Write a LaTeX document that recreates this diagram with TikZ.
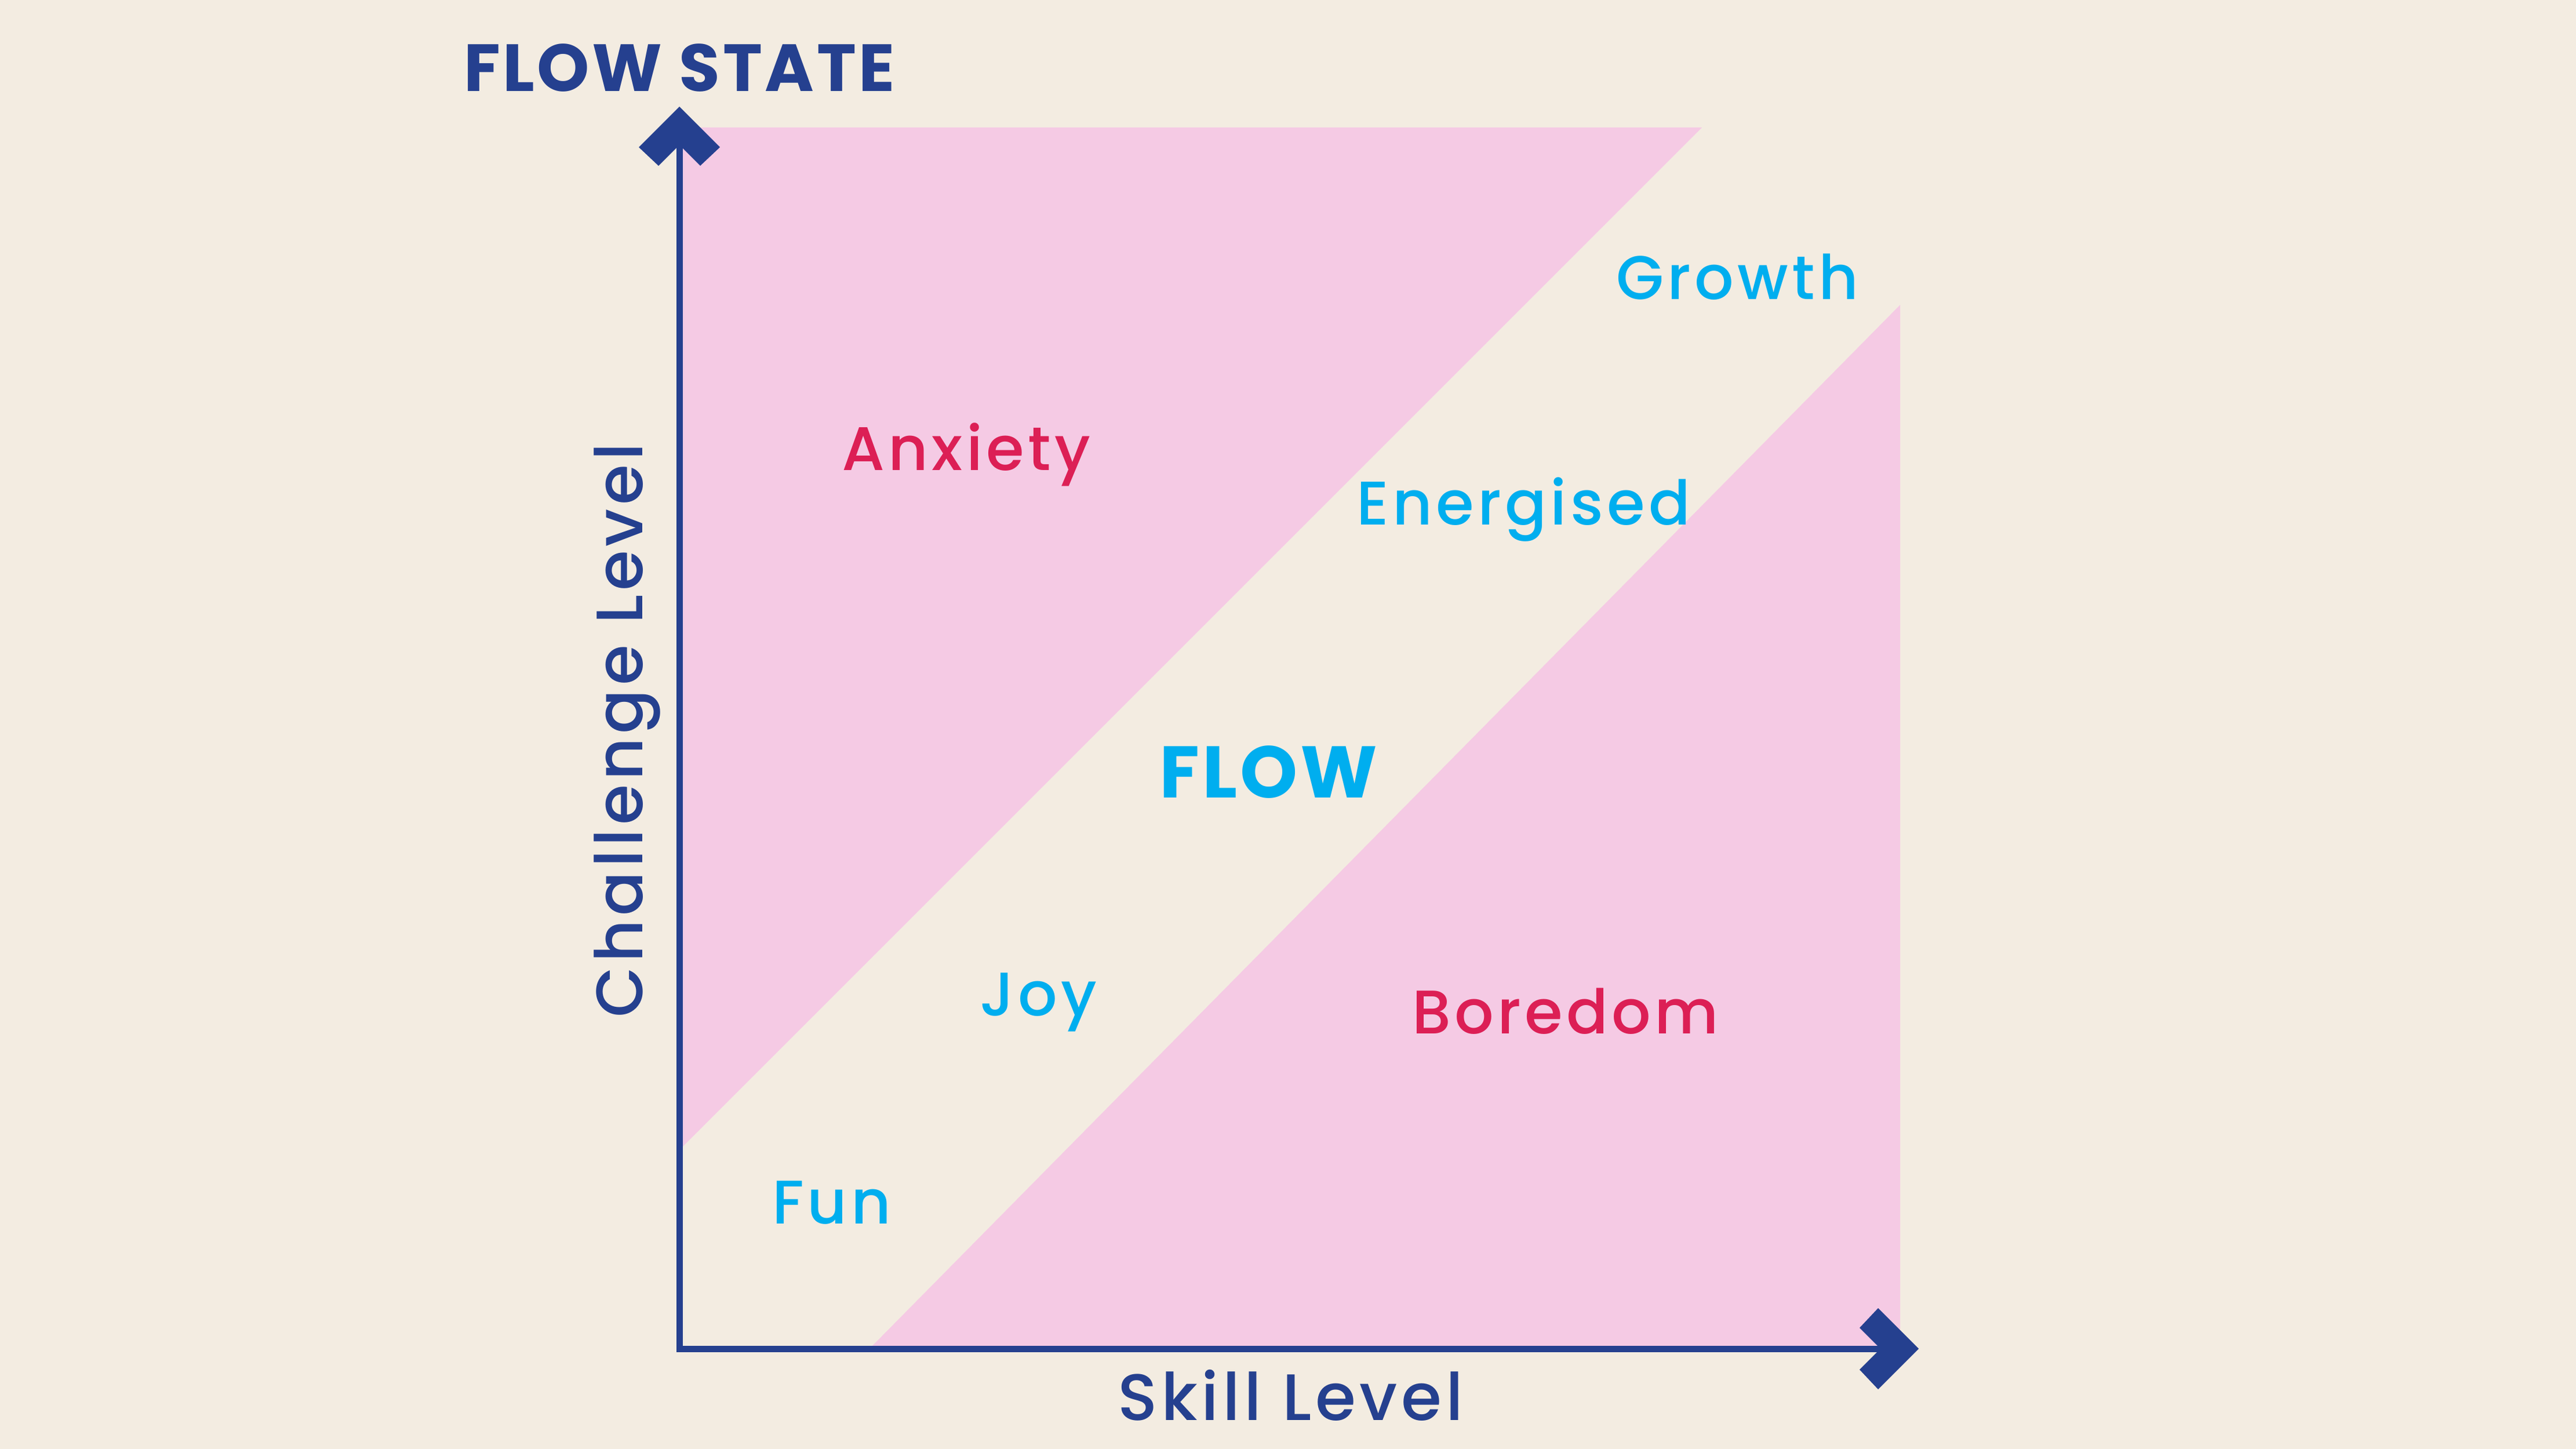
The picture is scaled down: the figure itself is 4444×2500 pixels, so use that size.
\documentclass[tikz,border=0pt]{standalone}
\usepackage{fontspec}
\setmainfont{Poppins}[UprightFont=* Medium, BoldFont=* Bold, LetterSpace=6]
\newfontfamily\labfont{Poppins}[UprightFont=* Medium, BoldFont=* Bold, LetterSpace=6]
\newfontfamily\titlefont{Poppins}[UprightFont=* Bold, LetterSpace=4]
\definecolor{cream}{HTML}{F3ECE1}
\definecolor{pinkbg}{HTML}{F5CAE4}
\definecolor{navy}{HTML}{25408F}
\definecolor{cyanlab}{HTML}{00AEEF}
\definecolor{crimson}{HTML}{DC1F55}
\begin{document}
\begin{tikzpicture}[x=0.01cm,y=-0.01cm,
  lab/.style={inner sep=0pt, outer sep=0pt, anchor=base west, font=\labfont\fontsize{30.2pt}{34pt}\selectfont},
  cyanlabel/.style={lab, text=cyanlab},
  redlabel/.style={lab, text=crimson},
  axislabel/.style={lab, text=navy, font=\labfont\fontsize{32.2pt}{36pt}\selectfont},
  axisline/.style={draw=navy, line width=11*0.01cm, line join=miter},
  arrowhead/.style={fill=navy, draw=none}]
\fill[cream] (0,0) rectangle (4444,2500);
\useasboundingbox (0,0) rectangle (4444,2500);
% pink regions
\fill[pinkbg] (1172,220) -- (2936,220) -- (1172,1984) -- cycle;
\fill[pinkbg] (1500,2327) -- (3278,526) -- (3278,2327) -- cycle;
% axes
\coordinate (O) at (1172,2327);
\coordinate (ytip) at (1172,250);
\coordinate (xtip) at (3244,2327);
\draw[axisline] (ytip) -- (O) -- (xtip);
\fill[arrowhead] (1172,184) -- (1242,254) -- (1208,286) -- (ytip) -- (1136,286) -- (1102,254) -- cycle;
\fill[arrowhead] (3310,2327) -- (3240,2397) -- (3208,2363) -- (xtip) -- (3208,2291) -- (3240,2257) -- cycle;
% titles
\node[lab, text=navy, font=\titlefont\fontsize{32.7pt}{36pt}\selectfont] (title) at (800,158) {FLOW STATE};
\node[axislabel] (skill) at (1928,2450) {Skill Level};
\node[axislabel, rotate=90] (challenge) at (1108,1755) {Challenge Level};
% region labels
\node[cyanlabel] (growth) at (2788,516) {Growth};
\node[redlabel] (anxiety) at (1452,811) {Anxiety};
\node[cyanlabel] (energised) at (2340,905) {Energised};
\node[lab, text=cyanlab, font=\titlefont\fontsize{35.9pt}{40pt}\selectfont] (flow) at (2000,1376) {FLOW};
\node[cyanlabel] (joy) at (1690,1752) {Joy};
\node[redlabel] (boredom) at (2436,1783) {Boredom};
\node[cyanlabel] (fun) at (1332,2111) {Fun};
\end{tikzpicture}
\end{document}
